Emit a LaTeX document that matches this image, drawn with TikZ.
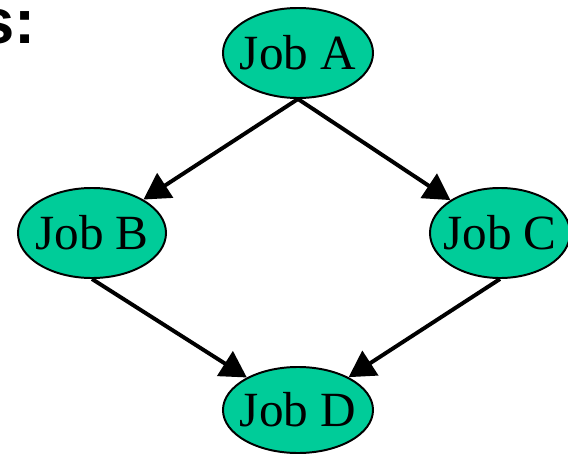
\documentclass[tikz,border=0pt]{standalone}
\usepackage{fontspec}
\setmainfont{Liberation Serif}
\newfontfamily\headfont{Liberation Sans}
\usepackage{tikz}
\usetikzlibrary{shapes.geometric, arrows.meta, positioning}
\usepackage{xcolor}
\definecolor{jobgreen}{RGB}{0, 204, 153}

\begin{document}
\begin{tikzpicture}[x=0.025cm, y=-0.025cm]
        \tikzstyle{job}=[ellipse, draw, fill=jobgreen, line width=1.4pt, inner xsep=-0.4cm, inner ysep=0pt, minimum height=2.25cm, font=\fontsize{35}{40}\selectfont]
        \tikzstyle{dep}=[line width=2.8pt, -{Triangle[length=0.65cm, width=0.72cm]}]
        \useasboundingbox (0,0) rectangle (568,454);

        % Heading, cut at the left edge
        \node[anchor=base east, inner sep=0pt, font=\headfont\bfseries\fontsize{45}{50}\selectfont] (head) at (36,43) {s:};

        % Jobs
        \node[job, minimum width=3.75cm] (jobA) at (298,53) {Job A};
        \node[job, minimum width=3.7cm] (jobB) at (92,233) {Job B};
        \node[job, minimum width=3.5cm] (jobC) at (500,233) {Job C};
        \node[job, minimum width=3.75cm, minimum height=2.15cm] (jobD) at (298,410) {Job D};

        % Dependencies
        \draw[dep] (jobA.south) -- (jobB);
        \draw[dep] (jobA.south) -- (jobC);
        \draw[dep] (jobB.south) -- (jobD);
        \draw[dep] (jobC.south) -- (jobD);
\end{tikzpicture}
\end{document}
